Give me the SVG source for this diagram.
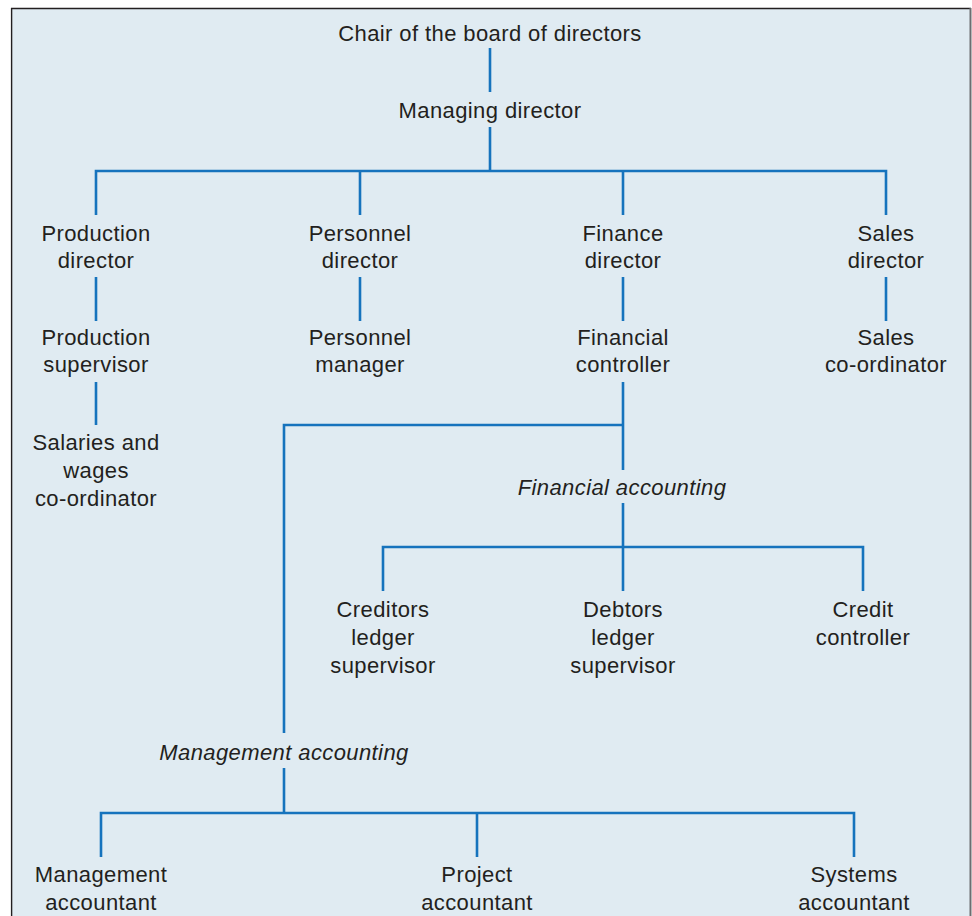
<svg xmlns="http://www.w3.org/2000/svg" width="972" height="916" viewBox="0 0 972 916">
  <style>
    .lbl { font-family: "Liberation Sans", Arial, Helvetica, sans-serif; font-size: 22px; letter-spacing: 0.4px; fill: #231f20; text-anchor: middle; }
    .it { font-style: italic; }
    .wire { fill: none; stroke: #1673bd; stroke-width: 2.6; stroke-linecap: butt; stroke-linejoin: miter; }
  </style>

  <!-- panel -->
  <rect x="12" y="8" width="958" height="910" fill="#e0ebf2"/>
  <line x1="11" y1="8.5" x2="971" y2="8.5" stroke="#231f20" stroke-width="1.6"/>
  <line x1="11.6" y1="8" x2="11.6" y2="916" stroke="#231f20" stroke-width="1.4"/>
  <line x1="970.5" y1="8" x2="970.5" y2="916" stroke="#6d6e71" stroke-width="2"/>

  <!-- connectors -->
  <g id="connectors" class="wire">
    <path d="M490 48V92"/>
    <path d="M490 127V171"/>
    <path d="M96 215V171H886V215"/>
    <path d="M360 171V215"/>
    <path d="M623 171V215"/>
    <path d="M96 277V321"/>
    <path d="M360 277V321"/>
    <path d="M623 277V321"/>
    <path d="M886 277V321"/>
    <path d="M96 382V425"/>
    <path d="M623 382V470"/>
    <path d="M623 425H284V733"/>
    <path d="M623 503V547"/>
    <path d="M383 591V547H863V591"/>
    <path d="M623 547V591"/>
    <path d="M284 768V813"/>
    <path d="M101 857V813H854V857"/>
    <path d="M477 813V857"/>
  </g>

  <!-- nodes -->
  <g id="chair"><text class="lbl" x="490" y="41">Chair of the board of directors</text></g>
  <g id="managing-director"><text class="lbl" x="490" y="118">Managing director</text></g>

  <g id="production-director"><text class="lbl" x="96" y="241">Production</text><text class="lbl" x="96" y="268">director</text></g>
  <g id="personnel-director"><text class="lbl" x="360" y="241">Personnel</text><text class="lbl" x="360" y="268">director</text></g>
  <g id="finance-director"><text class="lbl" x="623" y="241">Finance</text><text class="lbl" x="623" y="268">director</text></g>
  <g id="sales-director"><text class="lbl" x="886" y="241">Sales</text><text class="lbl" x="886" y="268">director</text></g>

  <g id="production-supervisor"><text class="lbl" x="96" y="345">Production</text><text class="lbl" x="96" y="372">supervisor</text></g>
  <g id="personnel-manager"><text class="lbl" x="360" y="345">Personnel</text><text class="lbl" x="360" y="372">manager</text></g>
  <g id="financial-controller"><text class="lbl" x="623" y="345">Financial</text><text class="lbl" x="623" y="372">controller</text></g>
  <g id="sales-coordinator"><text class="lbl" x="886" y="345">Sales</text><text class="lbl" x="886" y="372">co-ordinator</text></g>

  <g id="salaries-wages"><text class="lbl" x="96" y="450">Salaries and</text><text class="lbl" x="96" y="478">wages</text><text class="lbl" x="96" y="506">co-ordinator</text></g>

  <g id="financial-accounting"><text class="lbl it" x="622" y="495">Financial accounting</text></g>
  <g id="creditors-ledger"><text class="lbl" x="383" y="617">Creditors</text><text class="lbl" x="383" y="645">ledger</text><text class="lbl" x="383" y="673">supervisor</text></g>
  <g id="debtors-ledger"><text class="lbl" x="623" y="617">Debtors</text><text class="lbl" x="623" y="645">ledger</text><text class="lbl" x="623" y="673">supervisor</text></g>
  <g id="credit-controller"><text class="lbl" x="863" y="617">Credit</text><text class="lbl" x="863" y="645">controller</text></g>

  <g id="management-accounting"><text class="lbl it" x="284" y="760">Management accounting</text></g>
  <g id="management-accountant"><text class="lbl" x="101" y="882">Management</text><text class="lbl" x="101" y="910">accountant</text></g>
  <g id="project-accountant"><text class="lbl" x="477" y="882">Project</text><text class="lbl" x="477" y="910">accountant</text></g>
  <g id="systems-accountant"><text class="lbl" x="854" y="882">Systems</text><text class="lbl" x="854" y="910">accountant</text></g>
</svg>
